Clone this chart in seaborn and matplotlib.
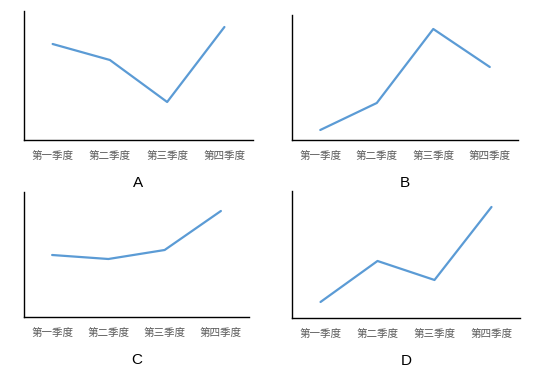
import matplotlib
matplotlib.use("Agg")
import matplotlib.pyplot as plt
import seaborn as sns
import pandas as pd

# ==============================================================================
# DATA (arbitrary units)
# ==============================================================================
quarters = ['第一季度', '第二季度', '第三季度', '第四季度']
panel_letters = ['A', 'B', 'C', 'D']
values_a = [96, 80, 38, 113]
values_b = [10, 37, 111, 73]
values_c = [62, 58, 67, 106]
values_d = [16, 57, 38, 111]
y_tops = [129, 125, 125, 127]

series = [values_a, values_b, values_c, values_d]

# ==============================================================================
# STYLE
# ==============================================================================
sns.set_style("white")
plt.rcParams['font.family'] = ['Noto Sans CJK SC', 'DejaVu Sans']

line_color = '#5B9BD5'

fig = plt.figure(figsize=(5.43, 3.73), dpi=100)

# axes rectangles in figure fraction: left, bottom, width, height
rects = [
    [0.0442, 0.6247, 0.4218, 0.3458],
    [0.5378, 0.6247, 0.4162, 0.3351],
    [0.0442, 0.1501, 0.4144, 0.3352],
    [0.5378, 0.1475, 0.4198, 0.3405],
]

for rect, vals, letter, ytop in zip(rects, series, panel_letters, y_tops):
    ax = fig.add_axes(rect)
    df = pd.DataFrame({'quarter': range(len(quarters)), 'value': vals})
    sns.lineplot(data=df, x='quarter', y='value', ax=ax,
                 color=line_color, linewidth=1.6)
    ax.set_xlim(-0.5, len(quarters) - 0.5)
    ax.set_ylim(0, ytop)
    ax.set_xticks(range(len(quarters)))
    ax.set_xticklabels(quarters, fontsize=7.6, color='#595959')
    ax.set_yticks([])
    ax.set_ylabel('')
    ax.tick_params(axis='x', length=0, pad=8)
    for side in ['top', 'right']:
        ax.spines[side].set_visible(False)
    for side in ['left', 'bottom']:
        ax.spines[side].set_color('black')
        ax.spines[side].set_linewidth(1.0)
    ax.set_xlabel(letter, fontsize=11, color='black', labelpad=10.5,
                  family=['Liberation Sans', 'DejaVu Sans'])

plt.savefig('out.png', dpi=100)
